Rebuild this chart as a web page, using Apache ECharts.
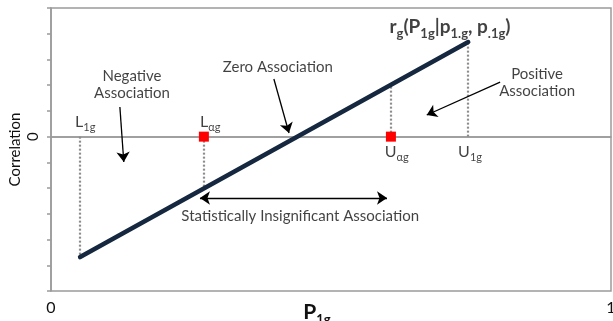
<!DOCTYPE html>
<html>
<head>
<meta charset="utf-8">
<script src="https://cdn.jsdelivr.net/npm/echarts@6/dist/echarts.min.js"></script>
<style>
html,body{margin:0;padding:0;background:#fff;}
#chart{width:613px;height:321px;}
</style>
</head>
<body>
<div id="chart"></div>
<script>
// ---- data ----
const xTickLabels = ['0', '1'];
const yTickLabelZero = '0';
const corrLineX = [0.052, 0.745];
const corrLineY = [-0.936, 0.735];
const boundNames = ['L1g', 'Lαg', 'Uαg', 'U1g'];
const boundX = [0.052, 0.273, 0.607, 0.745];
const boundR = [-0.936, -0.40, 0.40, 0.735];
const criticalX = [0.273, 0.607];
const criticalY = [0, 0];

const FONT = 'Lato';
const GRAY = '#9a9a9a';

const subRich = function (size, subSize, bold) {
  return {
    m: { fontSize: size, fontFamily: FONT, fontWeight: bold ? 'bold' : 'normal', color: '#111', lineHeight: size + 2, verticalAlign: 'top' },
    s: { fontSize: subSize, fontFamily: FONT, fontWeight: bold ? 'bold' : 'normal', color: '#111', lineHeight: subSize, padding: [Math.round(size * 0.5), 0, 0, 0], verticalAlign: 'top' }
  };
};
function subLabel(name) {
  return '{m|' + name[0] + '}{s|' + name.slice(1) + '}';
}

const chart = echarts.init(document.getElementById('chart'));

const dotted = boundX.map((x, i) => [
  { coord: [x, 0], lineStyle: { color: '#8c8c8c', width: 2.2, type: [2, 2] } },
  { coord: [x, boundR[i]] }
]);

const textPt = (x, y, txt, opts) => ({ value: [x, y], label: Object.assign({ formatter: txt }, opts || {}) });

const option = {
  animation: false,
  backgroundColor: '#fff',
  grid: { left: 51, right: 2, top: 8, bottom: 30, show: true, borderColor: GRAY, borderWidth: 1.5,
    containLabel: false, outerBoundsMode: 'none' },
  xAxis: {
    type: 'value', min: 0, max: 1, interval: 1,
    axisLine: { show: true, lineStyle: { color: GRAY, width: 1.5 } },
    axisTick: { show: false },
    splitLine: { show: false },
    axisLabel: { fontFamily: FONT, fontSize: 16, color: '#111', margin: 9,
      formatter: v => xTickLabels[Math.round(v)] },
    name: '{m|P}{s|1g}', nameLocation: 'middle', nameGap: 11, nameMoveOverlap: false,
    nameTextStyle: { rich: subRich(21, 13, true), padding: [0, 0, 0, -28] }
  },
  yAxis: {
    type: 'value', min: -1.2, max: 1.0, interval: 0.2,
    axisLine: { show: true, lineStyle: { color: GRAY, width: 1.5 } },
    axisTick: { show: true, inside: false, length: 4, lineStyle: { color: GRAY, width: 1.5 } },
    splitLine: { show: false },
    axisLabel: { fontFamily: FONT, fontSize: 15, color: '#111', rotate: 90, margin: 10,
      formatter: v => Math.abs(v) < 1e-9 ? yTickLabelZero : '' },
    name: 'Correlation', nameLocation: 'middle', nameGap: 28, nameMoveOverlap: false,
    nameTextStyle: { fontFamily: FONT, fontSize: 15, color: '#111' }
  },
  series: [
    {
      // zero line + dotted guides
      type: 'line', data: [], silent: true, z: 1,
      markLine: {
        silent: true, symbol: 'none', animation: false, z: 1,
        label: { show: false },
        data: [
          { yAxis: 0, lineStyle: { color: GRAY, width: 1.5, type: 'solid' } }
        ].concat(dotted)
      }
    },
    {
      type: 'line', z: 3, symbol: 'none', silent: true,
      data: corrLineX.map((x, i) => [x, corrLineY[i]]),
      lineStyle: { color: '#15283f', width: 4.5, cap: 'round' }
    },
    {
      type: 'scatter', z: 10, symbol: 'rect', symbolSize: 10, silent: true,
      itemStyle: { color: '#ff0000', borderWidth: 0, opacity: 1 },
      emphasis: { disabled: true },
      data: criticalX.map((x, i) => [x, criticalY[i]])
    },
    {
      // arrows
      type: 'line', data: [], silent: true, z: 5,
      markLine: {
        silent: true, animation: false, label: { show: false }, z: 5,
        symbol: ['none', 'arrow'], symbolSize: 10,
        itemStyle: { color: '#000' },
        lineStyle: { color: '#000', width: 1.3, type: 'solid' },
        data: [
          [{ coord: [0.123, 0.230] }, { coord: [0.130, -0.197] }],
          [{ coord: [0.398, 0.448] }, { coord: [0.425, 0.028] }],
          [{ coord: [0.802, 0.424] }, { coord: [0.671, 0.168] }],
          [{ coord: [0.266, -0.477], symbol: 'arrow' }, { coord: [0.600, -0.477], symbol: 'arrow' }]
        ]
      }
    },
    {
      // centered text annotations
      type: 'scatter', z: 6, symbolSize: 0, silent: true,
      label: { show: true, position: 'inside', fontFamily: FONT, fontSize: 15, color: '#111', lineHeight: 17 },
      data: [
        textPt(0.1446, 0.402, 'Negative\nAssociation'),
        textPt(0.405, 0.541, 'Zero Association'),
        textPt(0.868, 0.417, 'Positive\nAssociation'),
        textPt(0.445, -0.617, 'Statistically Insignificant Association'),
        textPt(0.7125, 0.844, '{m|r}{s|g}{m|(P}{s|1g}{m||p}{s|1.g}{m|, p}{s|.1g}{m|)}', { rich: subRich(19, 13, true) })
      ]
    },
    {
      // bound labels (left aligned)
      type: 'scatter', z: 6, symbolSize: 0, silent: true,
      label: { show: true, position: 'right', distance: 0, rich: subRich(16, 11, false) },
      data: [
        textPt(0.043, 0.106, subLabel(boundNames[0])),
        textPt(0.266, 0.106, subLabel(boundNames[1])),
        textPt(0.596, -0.128, subLabel(boundNames[2])),
        textPt(0.727, -0.128, subLabel(boundNames[3]))
      ]
    }
  ]
};
chart.setOption(option);
</script>
</body>
</html>
